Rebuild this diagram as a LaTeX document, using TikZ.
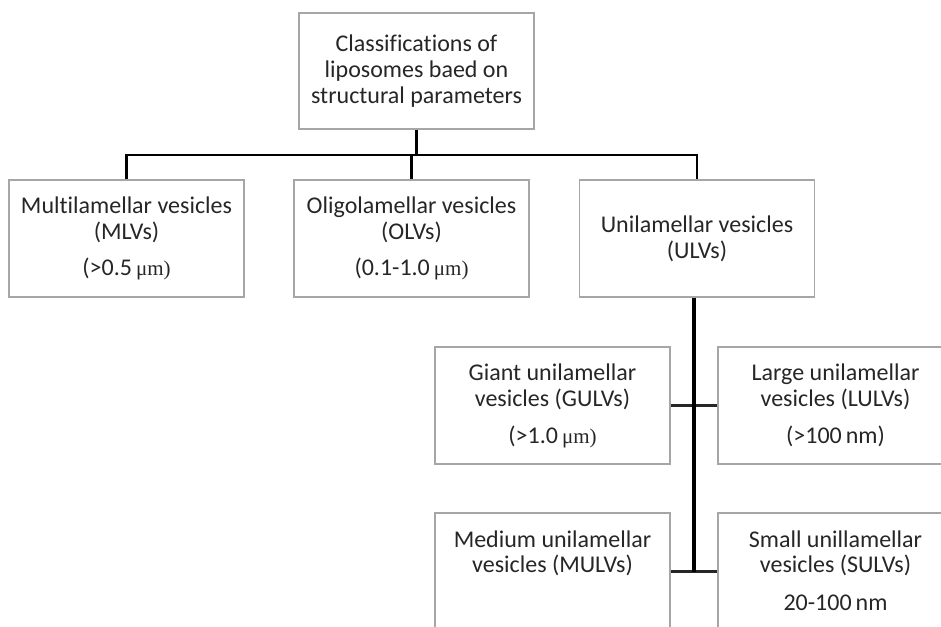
\documentclass[tikz,border=0pt]{standalone}
\usepackage{fontspec}
\setmainfont[Ligatures={NoCommon}]{Carlito}
\newfontfamily\unitfont{Liberation Serif}
\definecolor{boxline}{HTML}{A6A6A6}
\definecolor{txt}{HTML}{262626}
\newcommand{\fl}{\rule{0pt}{20pt}}
\begin{document}
\begin{tikzpicture}[x=1pt,y=1pt,
  box/.style={draw=boxline, line width=1.2pt, minimum width=235pt, minimum height=117pt, inner sep=0pt},
  lbl/.style={align=center, text=txt, inner sep=0pt, anchor=north, font=\fontsize{24}{25.5}\selectfont},
  conn/.style={draw=black, line width=2.5pt},
  cross/.style={draw=black!85, line width=2.6pt},
  spineline/.style={draw=black, line width=3.6pt}
]
\useasboundingbox (0,0) rectangle (941,626);
\clip (0,0) rectangle (941,626);
\newcommand{\um}{{\unitfont\fontsize{21}{25}\selectfont μm)}}
% boxes
\node[box, minimum height=116pt] (top) at (416.5,555) {};
\node[box] (mlv) at (126.5,387.5) {};
\node[box] (olv) at (411.5,387.5) {};
\node[box] (ulv) at (697,387.5) {};
\node[box] (gulv) at (552.5,220.5) {};
\node[box] (lulv) at (835.5,220.5) {};
\node[box] (mulv) at (552.5,54.5) {};
\node[box] (sulv) at (835.5,54.5) {};
% labels
\node[lbl, font=\fontsize{24}{26}\selectfont] (topT) at ([yshift=-19pt]top.north) {\fl Classifications of\\liposomes baed on\\structural parameters};
\node[lbl] (mlvT) at ([yshift=-14pt]mlv.north) {\fl Multilamellar vesicles\\(MLVs)\\[11pt](>0.5\,\um};
\node[lbl] (olvT) at ([yshift=-14pt]olv.north) {\fl Oligolamellar vesicles\\(OLVs)\\[11pt](0.1-1.0\,\um};
\node[lbl] (ulvT) at ([yshift=-33pt]ulv.north) {\fl Unilamellar vesicles\\(ULVs)};
\node[lbl] (gulvT) at ([yshift=-14pt]gulv.north) {\fl Giant unilamellar\\vesicles (GULVs)\\[12pt](>1.0\,\um};
\node[lbl] (lulvT) at ([yshift=-14pt]lulv.north) {\fl Large unilamellar\\vesicles (LULVs)\\[12pt](>100\,nm)};
\node[lbl] (mulvT) at ([yshift=-14.5pt]mulv.north) {\fl Medium unilamellar\\vesicles (MULVs)};
\node[lbl] (sulvT) at ([yshift=-14.5pt]sulv.north) {\fl Small unillamellar\\vesicles (SULVs)\\[12pt]20-100\,nm};
% connectors
\coordinate (bus) at (416.5,471);
\coordinate (spine) at (694,300);
\draw[conn] (top.south) -- (top.south |- bus);
\draw[conn, line join=miter] (mlv.north) -- (mlv.north |- bus) -- (ulv.north |- bus) -- (ulv.north);
\draw[conn] (olv.north |- bus) -- (olv.north);
\draw[cross] (gulv.east) -- (lulv.west);
\draw[cross] (mulv.east) -- (sulv.west);
\draw[spineline] (ulv.south -| spine) -- (spine |- mulv.east);
\end{tikzpicture}
\end{document}
